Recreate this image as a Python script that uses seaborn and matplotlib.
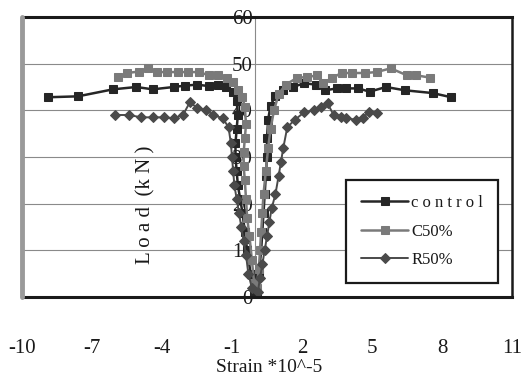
import matplotlib
matplotlib.use("Agg")
import matplotlib.pyplot as plt
import seaborn as sns
import pandas as pd

# Strain (x 10^-5) and load (kN) for each specimen: compressive branch, then tensile branch
control_strain = [-8.9, -7.6, -6.1, -5.1, -4.4, -3.5, -3.0, -2.5, -2.0, -1.6, -1.25, -0.95,
                  -0.8, -0.75, -0.8, -0.85, -0.85, -0.8, -0.75, -0.65, -0.55, -0.45, -0.35, -0.2, -0.05,
                  0.05, 0.15, 0.25, 0.3, 0.35, 0.4, 0.45, 0.5, 0.5, 0.55, 0.65, 0.85,
                  1.2, 1.6, 2.1, 2.6, 3.0, 3.5, 3.9, 4.4, 4.9, 5.6, 6.4, 7.6, 8.4]
control_load = [42.8, 43.0, 44.5, 45.0, 44.5, 45.0, 45.3, 45.5, 45.2, 45.5, 45.0, 44.0,
                42.0, 39.0, 36.0, 33.0, 30.0, 27.0, 24.0, 21.0, 18.0, 14.0, 10.0, 5.0, 1.0,
                1.0, 5.0, 10.0, 14.0, 18.0, 22.0, 26.0, 30.0, 34.0, 38.0, 41.0, 43.0,
                44.3, 45.0, 45.8, 45.5, 44.3, 44.7, 44.7, 44.7, 44.0, 45.0, 44.3, 43.7, 42.8]

c50_strain = [-5.9, -5.5, -5.0, -4.6, -4.2, -3.8, -3.3, -2.9, -2.4, -2.0, -1.6, -1.2, -0.95,
              -0.75, -0.55, -0.45, -0.4, -0.45, -0.5, -0.5, -0.45, -0.4, -0.35, -0.25, -0.15, -0.05,
              0.05, 0.15, 0.2, 0.25, 0.3, 0.35, 0.45, 0.55, 0.65, 0.8, 1.0, 1.3,
              1.8, 2.2, 2.65, 2.9, 3.3, 3.7, 4.15, 4.7, 5.2, 5.8, 6.5, 6.9, 7.5]
c50_load = [47.1, 48.0, 48.3, 49.0, 48.2, 48.2, 48.2, 48.2, 48.2, 47.5, 47.5, 47.0, 46.0,
            44.3, 42.8, 40.7, 37.0, 34.0, 31.0, 28.0, 25.0, 21.0, 17.0, 13.0, 8.0, 3.0,
            2.0, 6.0, 10.0, 14.0, 18.0, 22.0, 27.0, 32.0, 36.0, 40.0, 43.5, 45.5,
            47.0, 47.1, 47.5, 45.8, 47.0, 48.0, 48.0, 48.0, 48.2, 49.0, 47.5, 47.5, 47.0]

r50_strain = [-6.0, -5.4, -4.9, -4.4, -3.9, -3.5, -3.1, -2.8, -2.5, -2.1, -1.8, -1.4, -1.15,
              -1.05, -1.0, -0.95, -0.9, -0.8, -0.7, -0.6, -0.5, -0.4, -0.3, -0.15,
              0.1, 0.2, 0.3, 0.4, 0.5, 0.6, 0.7, 0.86, 1.0, 1.1, 1.2, 1.37,
              1.7, 2.1, 2.5, 2.8, 3.1, 3.35, 3.65, 3.9, 4.3, 4.6, 4.85, 5.2]
r50_load = [39.0, 39.0, 38.5, 38.5, 38.5, 38.3, 39.0, 41.8, 40.5, 40.0, 39.0, 38.3, 36.4,
            33.0, 30.0, 27.0, 24.0, 21.0, 18.0, 15.0, 12.0, 9.0, 5.0, 2.0,
            1.0, 4.0, 7.0, 10.0, 13.0, 16.0, 19.0, 22.0, 26.0, 29.0, 32.0, 36.4,
            38.0, 39.6, 40.0, 40.7, 41.5, 39.0, 38.5, 38.3, 38.0, 38.3, 39.6, 39.4]

series_names = ["control", "C50%", "R50%"]
x_ticks = [-10, -7, -4, -1, 2, 5, 8, 11]
y_ticks = [0, 10, 20, 30, 40, 50, 60]

frames = []
for name, xs, ys in zip(series_names,
                        [control_strain, c50_strain, r50_strain],
                        [control_load, c50_load, r50_load]):
    frames.append(pd.DataFrame({"strain": xs, "load": ys, "series": name}))
df = pd.concat(frames, ignore_index=True)

sns.set_style("white")
plt.rcParams["font.family"] = ["Liberation Serif", "DejaVu Serif"]

fig = plt.figure(figsize=(5.23, 3.79), dpi=100)
ax = fig.add_axes([22 / 523, 82 / 379, 490 / 523, 280 / 379])

styles = {
    "control": dict(color="#262626", marker="s", lw=1.8, ms=5.5),
    "C50%": dict(color="#7a7a7a", marker="s", lw=1.8, ms=5.5),
    "R50%": dict(color="#4a4a4a", marker="D", lw=1.4, ms=5.0),
}
for name in series_names:
    st = styles[name]
    sns.lineplot(data=df[df["series"] == name], x="strain", y="load",
                 sort=False, estimator=None, ax=ax, color=st["color"],
                 marker=st["marker"], markersize=st["ms"], linewidth=st["lw"],
                 markeredgecolor=st["color"], markerfacecolor=st["color"],
                 label=name, legend=False)

ax.set_xlim(-10, 11)
ax.set_ylim(0, 60)
ax.set_xticks(x_ticks)
ax.set_yticks(y_ticks)
ax.set_xticklabels([str(t) for t in x_ticks])
ax.set_yticklabels([str(t) for t in y_ticks])

# horizontal gridlines only
for y in y_ticks[1:-1]:
    ax.axhline(y, color="#8a8a8a", lw=0.8, zorder=0)

# value axis crosses at zero strain
ax.spines["left"].set_position(("data", 0))
ax.spines["left"].set_color("#8a8a8a")
ax.spines["left"].set_linewidth(0.8)
ax.spines["left"].set_zorder(0)
ax.axvline(-10, color="#9a9a9a", lw=3.5, zorder=5, clip_on=False)
ax.spines["top"].set_linewidth(2.2)
ax.spines["top"].set_color("#1a1a1a")
ax.spines["right"].set_linewidth(1.8)
ax.spines["right"].set_color("#1a1a1a")
ax.spines["bottom"].set_linewidth(2.2)
ax.spines["bottom"].set_color("#1a1a1a")

ax.tick_params(axis="y", length=0, pad=2, labelsize=15, labelcolor="#1a1a1a")
ax.tick_params(axis="x", direction="out", length=4, width=0.8, color="#9a9a9a",
               pad=26, labelsize=15, labelcolor="#1a1a1a")

ax.set_xlabel("Strain *10^-5", fontsize=14, color="#1a1a1a", labelpad=0)
ax.xaxis.set_label_coords(0.505, -0.22)
ax.set_ylabel("L o a d  (k N )", fontsize=15, color="#1a1a1a")
ax.yaxis.set_label_coords(0.272, 0.33)

handles, labels = ax.get_legend_handles_labels()
leg = ax.legend(handles, ["c o n t r o l", "C50%", "R50%"], loc="lower right",
                bbox_to_anchor=(0.972, 0.05), fontsize=12, frameon=True,
                fancybox=False, edgecolor="#1a1a1a", framealpha=1,
                handlelength=2.8, labelspacing=0.75, borderpad=0.9,
                handletextpad=0.2, borderaxespad=0)
leg.get_frame().set_linewidth(1.6)
for t in leg.get_texts():
    t.set_color("#1a1a1a")

fig.savefig("out.png", dpi=100)
